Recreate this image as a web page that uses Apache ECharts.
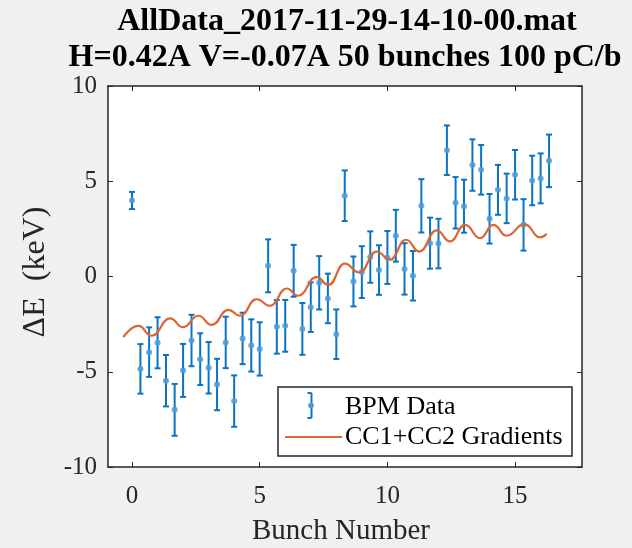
<!DOCTYPE html>
<html>
<head>
<meta charset="utf-8">
<script src="https://cdn.jsdelivr.net/npm/echarts@6/dist/echarts.min.js"></script>
<style>
  html, body { margin: 0; padding: 0; background: #F0F0F0; }
  #chart { width: 632px; height: 548px; }
</style>
</head>
<body>
<div id="chart"></div>
<script>
// Bunch positions (bunch number axis) for the 50 bunches
const bunchPos = [0, 0.33, 0.67, 1, 1.33, 1.67, 2, 2.33, 2.67, 3,
  3.33, 3.67, 4, 4.33, 4.67, 5, 5.33, 5.67, 6, 6.33,
  6.67, 7, 7.33, 7.67, 8, 8.33, 8.67, 9, 9.33, 9.67,
  10, 10.33, 10.67, 11, 11.33, 11.67, 12, 12.33, 12.67, 13,
  13.33, 13.67, 14, 14.33, 14.67, 15, 15.33, 15.67, 16, 16.33];

// Measured energy offset per bunch (keV)
const bpmEnergy = [3.99, -4.85, -3.97, -3.48, -5.47, -7.00, -4.93, -3.36, -4.34, -4.79,
  -5.67, -3.46, -6.54, -3.25, -3.62, -3.80, 0.56, -2.64, -2.59, 0.30,
  -2.75, -1.61, -0.33, -1.15, -3.03, 4.24, -0.26, 0.23, 1.02, 0.34,
  1.00, 2.14, 0.40, 0.04, 3.71, 1.75, 1.73, 6.63, 3.87, 3.69,
  5.85, 5.60, 3.03, 4.55, 4.10, 5.34, 2.71, 5.04, 5.15, 6.07];

// Error bar half-heights (keV)
const bpmError = [0.45, 1.30, 1.30, 1.34, 1.35, 1.36, 1.39, 1.35, 1.36, 1.35,
  1.35, 1.35, 1.35, 1.35, 1.37, 1.40, 1.39, 1.41, 1.36, 1.36,
  1.36, 1.30, 1.40, 1.30, 1.30, 1.33, 1.31, 1.36, 1.35, 1.30,
  1.39, 1.36, 1.35, 1.30, 1.40, 1.34, 1.30, 1.30, 1.35, 1.39,
  1.35, 1.30, 1.30, 1.31, 1.30, 1.30, 1.35, 1.30, 1.31, 1.38];

// Model curve from the cavity gradients: positions and values (keV)
const modelPos = [-0.34, 0.25, 0.77, 1.49, 2.00, 2.60, 3.12, 3.77, 4.23, 4.88,
  5.40, 6.06, 6.50, 7.23, 7.69, 8.33, 8.90, 9.58, 10.10, 10.73,
  11.25, 11.93, 12.45, 13.04, 13.63, 14.15, 14.67, 15.37, 15.98, 16.24];
const modelEnergy = [-3.18, -2.59, -3.11, -2.20, -2.66, -2.06, -2.54, -1.75, -2.06, -1.19,
  -1.54, -0.63, -1.01, -0.03, -0.44, 0.68, 0.21, 1.31, 0.88, 1.93,
  1.31, 2.42, 1.84, 2.71, 2.01, 2.71, 2.14, 2.75, 2.05, 2.24];

const xTicks = [0, 5, 10, 15];
const yTicks = [-10, -5, 0, 5, 10];

const titleLines = ['AllData_2017-11-29-14-10-00.mat', 'H=0.42A V=-0.07A 50 bunches 100 pC/b'];
const xLabel = 'Bunch Number';
const yLabel = '\u0394E  (keV)';
const legendNames = ['BPM Data', 'CC1+CC2 Gradients'];

const BLUE = '#0A74C2';
const ORANGE = '#DD6630';
const AXIS = '#262626';
const FONT = '"Liberation Serif", "Times New Roman", serif';

const xMin = -0.94, xMax = 17.62;

const errData = bunchPos.map((x, i) => [x, bpmEnergy[i], bpmError[i]]);
const dotData = bunchPos.map((x, i) => [x, bpmEnergy[i]]);
const modelData = modelPos.map((x, i) => [x, modelEnergy[i]]);

const chart = echarts.init(document.getElementById('chart'), null, { renderer: 'canvas' });

const tickStyle = { show: true, inside: true, length: 5, lineStyle: { color: AXIS, width: 1 } };

const option = {
  backgroundColor: '#F0F0F0',
  animation: false,
  grid: {
    left: 108, right: 50, top: 86, bottom: 81,
    show: true, backgroundColor: '#FFFFFF', borderWidth: 0
  },
  xAxis: [{
    type: 'value', min: xMin, max: xMax, position: 'bottom',
    axisLine: { show: true, onZero: false, lineStyle: { color: AXIS, width: 1.5 } },
    axisTick: Object.assign({}, tickStyle, { customValues: xTicks }),
    axisLabel: { customValues: xTicks, margin: 17, color: '#262626', fontFamily: FONT, fontSize: 25 },
    splitLine: { show: false }
  }, {
    type: 'value', min: xMin, max: xMax, position: 'top',
    axisLine: { show: true, onZero: false, lineStyle: { color: AXIS, width: 1.5 } },
    axisTick: Object.assign({}, tickStyle, { customValues: xTicks }),
    axisLabel: { show: false },
    splitLine: { show: false }
  }],
  yAxis: [{
    type: 'value', min: -10, max: 10, interval: 5, position: 'left',
    axisLine: { show: true, onZero: false, lineStyle: { color: AXIS, width: 1.5 } },
    axisTick: tickStyle,
    axisLabel: { margin: 11, color: '#262626', fontFamily: FONT, fontSize: 25 },
    splitLine: { show: false }
  }, {
    type: 'value', min: -10, max: 10, interval: 5, position: 'right',
    axisLine: { show: true, onZero: false, lineStyle: { color: AXIS, width: 1.5 } },
    axisTick: tickStyle,
    axisLabel: { show: false },
    splitLine: { show: false }
  }],
  series: [{
    name: legendNames[0],
    type: 'custom',
    xAxisIndex: 0, yAxisIndex: 0,
    data: errData,
    renderItem: function (params, api) {
      const x = api.value(0), y = api.value(1), e = api.value(2);
      const lo = api.coord([x, y - e]);
      const hi = api.coord([x, y + e]);
      const cap = 3;
      const st = { stroke: BLUE, lineWidth: 2 };
      return {
        type: 'group',
        children: [
          { type: 'line', shape: { x1: lo[0], y1: lo[1], x2: hi[0], y2: hi[1] }, style: st },
          { type: 'line', shape: { x1: lo[0] - cap, y1: lo[1], x2: lo[0] + cap, y2: lo[1] }, style: st },
          { type: 'line', shape: { x1: hi[0] - cap, y1: hi[1], x2: hi[0] + cap, y2: hi[1] }, style: st }
        ]
      };
    },
    z: 2
  }, {
    name: legendNames[0] + ' points',
    type: 'scatter',
    data: dotData,
    symbol: 'circle',
    symbolSize: 6,
    itemStyle: { color: '#4C9BD8', opacity: 0.85 },
    z: 3
  }, {
    name: legendNames[1],
    type: 'line',
    data: modelData,
    showSymbol: false,
    smooth: 0.5,
    smoothMonotone: 'x',
    lineStyle: { color: ORANGE, width: 2.2 },
    z: 4
  }],
  graphic: [
    // title
    { type: 'text', x: 347, y: 22, style: { text: titleLines[0], fontFamily: FONT, fontWeight: 'bold', fontSize: 32, fill: '#000', align: 'center', verticalAlign: 'middle' } },
    { type: 'text', x: 345, y: 58, style: { text: titleLines[1], fontFamily: FONT, fontWeight: 'bold', fontSize: 32, fill: '#000', align: 'center', verticalAlign: 'middle' } },
    // axis names
    { type: 'text', x: 341, y: 531, style: { text: xLabel, fontFamily: FONT, fontSize: 29, fill: '#262626', align: 'center', verticalAlign: 'middle' } },
    { type: 'text', x: 36, y: 272, rotation: Math.PI / 2, style: { text: yLabel, fontFamily: FONT, fontSize: 32, fill: '#262626', align: 'center', verticalAlign: 'middle' } },
    // legend box
    { type: 'rect', shape: { x: 278, y: 387, width: 294, height: 69 }, style: { fill: '#FFFFFF', stroke: AXIS, lineWidth: 1.5 }, z: 10 },
    { type: 'line', shape: { x1: 311.5, y1: 393, x2: 311.5, y2: 418 }, style: { stroke: BLUE, lineWidth: 2 }, z: 11 },
    { type: 'line', shape: { x1: 307.5, y1: 393, x2: 311.5, y2: 393 }, style: { stroke: BLUE, lineWidth: 2 }, z: 11 },
    { type: 'line', shape: { x1: 307.5, y1: 418, x2: 311.5, y2: 418 }, style: { stroke: BLUE, lineWidth: 2 }, z: 11 },
    { type: 'circle', shape: { cx: 311, cy: 405.5, r: 2.8 }, style: { fill: '#4C9BD8' }, z: 12 },
    { type: 'line', shape: { x1: 285, y1: 437, x2: 342, y2: 437 }, style: { stroke: ORANGE, lineWidth: 2.2 }, z: 11 },
    { type: 'text', x: 345, y: 407, style: { text: legendNames[0], fontFamily: FONT, fontSize: 26, fill: '#000', align: 'left', verticalAlign: 'middle' }, z: 11 },
    { type: 'text', x: 345, y: 437, style: { text: legendNames[1], fontFamily: FONT, fontSize: 26, fill: '#000', align: 'left', verticalAlign: 'middle' }, z: 11 }
  ]
};

chart.setOption(option);
</script>
</body>
</html>
